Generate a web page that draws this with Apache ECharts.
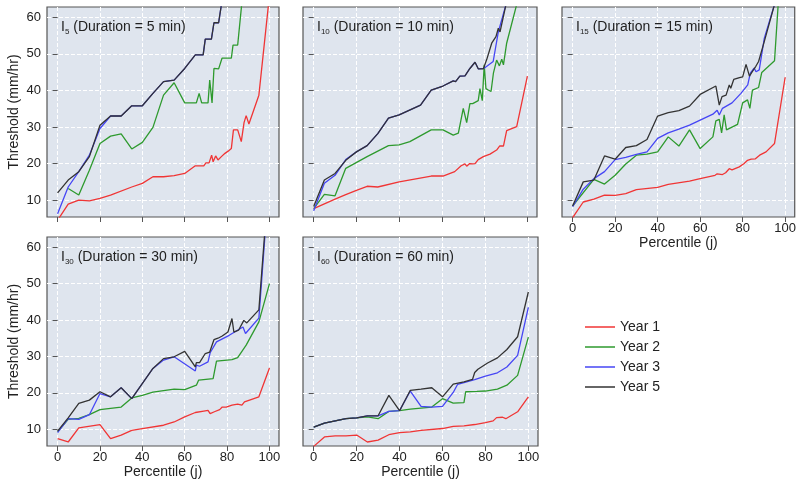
<!DOCTYPE html>
<html>
<head>
<meta charset="utf-8">
<script src="https://cdn.jsdelivr.net/npm/echarts@6/dist/echarts.min.js"></script>
<style>
  html, body { margin: 0; padding: 0; background: #fff; }
  #main { width: 799px; height: 482px; }
</style>
</head>
<body>
<div id="main"></div>
<script>
var myChart = echarts.init(document.getElementById('main'));

var years = ['Year 1', 'Year 2', 'Year 3', 'Year 5'];
var colors = ['#f03535', '#2e9a2e', '#4646f5', '#333333'];
var durations = ['5', '10', '15', '30', '60'];
var xTicks = [0, 20, 40, 60, 80, 100];
var yTicks = [10, 20, 30, 40, 50, 60];

// I5
var i5_y1 = [[0,4.5],[5,8.9],[10,10],[15,9.8],[20,10.5],[25,11.4],[35,13.6],[40,14.6],[45,16.4],[50,16.4],[55,16.7],[60,17.3],[65,19.4],[69,19.4],[70,20.2],[71.5,20.2],[72.7,22.3],[73.4,20.5],[74.6,22.1],[75.7,21],[77.3,21.9],[79,22.8],[80.5,23.4],[82,24.1],[83,29.2],[85,29.2],[86.7,26],[88,31.2],[89,33.1],[90.3,30.8],[95,38.7],[100,66]];
var i5_y2 = [[5,13.2],[10,11.4],[15,18.2],[20,25.5],[25,27.5],[30,28.1],[35,24],[40,25.8],[45,29.9],[50,38.7],[55,42.1],[60,36.6],[65.5,36.6],[66.8,39.2],[68,36.6],[71,36.6],[71.8,42.8],[72.9,36.6],[73.8,46],[76,45.9],[77.6,48.8],[82,48.8],[82.8,52.4],[85,52.4],[88,70],[100,120]];
var i5_y3 = [[0,6.3],[5,13.6],[10,17.8],[15,22.3],[20,29.6],[25,33],[30,33],[35,35.8],[40,35.8],[45,39.2],[50,42.4],[55,42.8],[60,46],[65,49.7],[68.7,49.7],[69.7,54],[72.6,54],[73.8,58.5],[76,58.5],[78,66],[100,120]];
var i5_y5 = [[0,12],[5,15.5],[10,17.8],[15,21.9],[20,30.5],[25,33],[30,33],[35,35.8],[40,35.8],[45,39.2],[50,42.4],[55,42.8],[60,46],[65,49.7],[68.7,49.7],[69.7,54],[72.6,54],[73.8,58.5],[76,58.5],[78,66],[100,120]];

// I10
var i10_y1 = [[0,7.7],[5,9],[10,10.3],[15,11.5],[20,12.7],[25,13.8],[30,13.6],[40,15],[55,16.6],[60.5,16.6],[66,17.8],[69,19.4],[70.8,19.9],[71.6,19.3],[73,20],[74.4,19.9],[75.5,20],[77,21.1],[79.4,21.9],[82.5,22.6],[85.6,23.7],[87,24.8],[88.8,24.8],[90.3,29],[95,30.1],[100,43.9]];
var i10_y2 = [[0,7.7],[5,11.6],[10,11.2],[15,18.7],[25,21.9],[35,24.9],[40,25.1],[45,26],[55,29.2],[60.5,29.2],[65.3,27.8],[67.7,28.3],[70,35.1],[71.6,31.2],[73.1,36.4],[74.4,36.4],[77,37.2],[77.8,40.5],[78.9,37.2],[79.8,47],[80.6,40.5],[81.7,40.1],[83,39.7],[84.1,44.7],[85.6,48.3],[86.9,46.7],[88,48.5],[88.8,47],[90.3,52.9],[95,63.5],[100,80]];
var i10_y3 = [[0,7.1],[5,14.6],[10,16.8],[15,21.1],[20,23.2],[25,24.9],[30,28.2],[35,32.4],[40,33.3],[50,36],[55,40.1],[60.5,41.2],[65.3,42.6],[66.4,42.4],[68.4,43.9],[70.8,44],[73.1,46],[75.5,47.7],[77,45.9],[79.6,46],[84,47.9],[86.4,56],[87.2,56],[90,63.5],[100,90]];
var i10_y5 = [[0,8.3],[5,15.5],[10,17.3],[15,20.9],[20,23.2],[25,24.9],[30,28.2],[35,32.4],[40,33.3],[50,36],[55,40.1],[60.5,41.2],[65.3,42.6],[66.4,42.4],[68.4,43.9],[70.8,44],[73.1,46],[75.5,47.7],[77,45.9],[79.4,45.9],[81,48.5],[83.3,52.9],[85.3,54.7],[86.4,57],[87.2,56],[90,63.5],[100,90]];

// I15
var i15_y1 = [[0,5.2],[5,9.5],[10,10.3],[15,11.4],[20,11.3],[25,11.8],[30,12.9],[40,13.5],[45,14.3],[55,15.2],[60,15.9],[67,16.8],[68,17.2],[70.5,17],[72,17.5],[73.7,18.6],[75,18.3],[78.4,19.1],[80.7,20],[82.3,20.9],[84,21.2],[86,21.3],[88,22.3],[91,23.2],[95,25.5],[100,43.6]];
var i15_y2 = [[0,8.4],[10,15.7],[15,14.4],[20,16.8],[25,19.9],[30,22.3],[35,22.6],[40,23.2],[45,27.3],[50,24.8],[55,29.2],[60,24.1],[66,27.3],[67.4,31.7],[69,32.1],[70.1,28.4],[71.3,33.3],[72.4,29.2],[77.6,30.7],[80,36.6],[82.3,37.4],[83.4,35.1],[84.6,40.1],[87.5,40.8],[89,44.9],[95,48.1],[97,66],[100,80]];
var i15_y3 = [[0,8.2],[5,13],[10,15.9],[15,17.8],[20,21.1],[25,21.7],[30,22.5],[35,23.2],[40,26.9],[45,28.4],[50,29.4],[55,30.5],[60,31.9],[66,33.5],[68,34.6],[69,33.3],[70.5,35.1],[75,36.6],[79.2,39.2],[82.4,41.5],[83.6,44.7],[85.4,46.1],[86.3,45.1],[87.8,45.6],[90.2,54.3],[95,63.5],[100,80]];
var i15_y5 = [[0,8.4],[5,15],[10,15.5],[15,22.1],[20,21.2],[25,24.4],[30,24.9],[35,26.6],[40,33],[45,33.9],[50,34.5],[55,35.7],[60,38.9],[67.4,41.2],[69,36],[70.3,38.3],[72.2,38.7],[73.7,41.5],[74.4,40.6],[75.8,43],[78.5,43.5],[80,43.7],[81.6,47.1],[83.2,43.9],[84.6,45.2],[86.2,46.6],[87.5,47.9],[90,53],[95,63.5],[100,80]];

// I30
var i30_y1 = [[0,7.4],[5,6.5],[10,10.4],[20,11.3],[25,7.4],[30,8.4],[35,9.7],[40,10.2],[50,11.1],[55,12],[60,13.4],[65,14.6],[69,15],[71,15.2],[72,14.3],[74,14.8],[76.5,15.4],[77.7,16.1],[79.6,16.1],[82.3,16.6],[85,16.9],[87,16.6],[88.2,17.5],[90.6,18],[95,18.9],[100,26.8]];
var i30_y2 = [[0,9.3],[5,12.7],[10,13],[15,14],[20,15.4],[30,16.1],[35,18.6],[40,19.3],[45,20.2],[55,21],[60,20.9],[65.5,22.1],[66.6,23.5],[73.4,23.9],[75,28.7],[80,29],[82.3,29.1],[85,29.7],[89,33.1],[95,39.5],[100,50]];
var i30_y3 = [[0,9.1],[5,12.9],[10,12.7],[15,14],[20,19.8],[25,18.9],[30,21.4],[35,18.4],[45,26.7],[50,29],[55,29.9],[65,26],[65.5,27.6],[67,27.3],[71,28.5],[72,31],[75,34],[81,35.8],[87.5,38.1],[88.7,36.3],[95,40.5],[100,80]];
var i30_y5 = [[0,9.5],[5,13.1],[10,17.1],[15,18],[20,20.3],[25,18.9],[30,21.4],[35,18.4],[45,26.7],[50,29.4],[55,29.9],[60,31.4],[65,27.1],[65.5,28.3],[67,28.3],[69.7,30.8],[71.8,31.2],[73.8,34.6],[75.7,35],[77.7,35.6],[80.4,36.7],[82.3,40.4],[83.2,36.7],[85.4,37.2],[87.9,39.9],[89.3,39.2],[95,42.8],[100,81]];

// I60
var i60_y1 = [[0,5.3],[5,7.9],[10,8.2],[15,8.2],[20,8.4],[25,6.5],[30,7],[35,8.5],[40,9.1],[45,9.3],[50,9.7],[60,10.2],[65,10.8],[70,10.9],[75,11.3],[80,11.8],[83.6,12.3],[85.2,13.2],[88,13.3],[89.5,12.9],[95,14.8],[100,18.9]];
var i60_y2 = [[0,10.6],[5,11.7],[10,12.3],[15,12.9],[20,13.1],[25,13.4],[30,12.9],[35,14.9],[40,15.1],[45,15.5],[55,16.1],[60,18.4],[65,17.2],[70,17.3],[70.8,20.3],[76,20.4],[80,20.5],[85.6,21],[90,22.1],[95,24.8],[100,35.3]];
var i60_y3 = [[0,10.6],[5,11.7],[10,12.3],[15,12.9],[20,13.1],[25,13.7],[30,13.7],[35,14.9],[40,15.1],[45,20.5],[50,16.3],[55,16.1],[60,16.3],[65,20.1],[67,22.3],[70,22.8],[75,23.6],[80,24.6],[85.6,25.5],[90,27.1],[95,30.3],[100,43.5]];
var i60_y5 = [[0,10.6],[5,11.7],[10,12.3],[15,12.9],[20,13.1],[25,13.7],[30,13.7],[35,19.3],[40,15.1],[45,20.7],[50,21],[55,21.4],[60,18.9],[65,22.4],[70,23],[74,23.7],[75,25.6],[76.5,26.5],[81,28.2],[85.6,29.6],[90,31.9],[95,35.4],[100,47.7]];

var panelData = [
    [i5_y1, i5_y2, i5_y3, i5_y5],
    [i10_y1, i10_y2, i10_y3, i10_y5],
    [i15_y1, i15_y2, i15_y3, i15_y5],
    [i30_y1, i30_y2, i30_y3, i30_y5],
    [i60_y1, i60_y2, i60_y3, i60_y5]
];

var font = 'Liberation Sans, Arial, sans-serif';
var pos = [
    { left: 47, top: 7, width: 232, height: 210 },
    { left: 303, top: 7, width: 234, height: 210 },
    { left: 562, top: 7, width: 234, height: 210 },
    { left: 47, top: 237, width: 232, height: 209 },
    { left: 303, top: 237, width: 235, height: 209 }
];
var showYLabel = [true, false, false, true, false];
var showXLabel = [false, false, true, true, true];

var grids = [], xAxes = [], yAxes = [], series = [], titles = [];

pos.forEach(function (p, i) {
    grids.push({
        left: p.left, top: p.top, width: p.width, height: p.height,
        show: true,
        backgroundColor: '#dfe5ee',
        borderColor: '#555',
        borderWidth: 1.2
    });
    xAxes.push({
        type: 'value',
        gridIndex: i,
        min: -5,
        max: 104.5,
        name: showXLabel[i] ? 'Percentile (j)' : '',
        nameLocation: 'middle',
        nameGap: 18,
        nameTextStyle: { color: '#222', fontSize: 14, fontFamily: font },
        axisLine: { show: false },
        axisTick: { show: true, length: 5, customValues: xTicks, lineStyle: { color: '#555' } },
        axisLabel: { show: showXLabel[i], customValues: xTicks, margin: 5, color: '#222', fontSize: 13, fontFamily: font },
        splitLine: { show: true, lineStyle: { color: '#fff', type: 'dashed', width: 1 } }
    });
    yAxes.push({
        type: 'value',
        gridIndex: i,
        min: 5.4,
        max: 62.8,
        name: showYLabel[i] ? 'Threshold (mm/hr)' : '',
        nameLocation: 'middle',
        nameGap: 26,
        nameTextStyle: { color: '#222', fontSize: 14, fontFamily: font },
        axisLine: { show: false },
        axisTick: { show: true, length: 5, customValues: yTicks, lineStyle: { color: '#555' } },
        axisLabel: { show: showYLabel[i], customValues: yTicks, margin: 6, color: '#222', fontSize: 13, fontFamily: font },
        splitLine: { show: true, lineStyle: { color: '#fff', type: 'dashed', width: 1 } }
    });
    panelData[i].forEach(function (d, k) {
        series.push({
            type: 'line',
            name: years[k],
            xAxisIndex: i,
            yAxisIndex: i,
            data: d,
            symbol: 'none',
            clip: true,
            lineStyle: { width: 1.3, color: colors[k] },
            itemStyle: { color: colors[k] },
            z: 2 + k
        });
    });
    titles.push({
        left: p.left + 9,
        top: p.top + 7,
        text: '{a|I}{s|' + durations[i] + '}{a| (Duration = ' + durations[i] + ' min)}',
        textStyle: {
            rich: {
                a: { fontSize: 14, fontWeight: 'normal', color: '#222', fontFamily: font },
                s: { fontSize: 8, fontWeight: 'normal', color: '#222', fontFamily: font, padding: [9, 0, 0, 0] }
            }
        }
    });
});

var option = {
    backgroundColor: '#fff',
    animation: false,
    title: titles,
    legend: {
        left: 580,
        top: 315,
        orient: 'vertical',
        icon: 'rect',
        itemWidth: 30,
        itemHeight: 1.5,
        itemGap: 6,
        data: years,
        textStyle: { color: '#222', fontSize: 14, fontFamily: font }
    },
    grid: grids,
    xAxis: xAxes,
    yAxis: yAxes,
    series: series
};

myChart.setOption(option);
</script>
</body>
</html>
